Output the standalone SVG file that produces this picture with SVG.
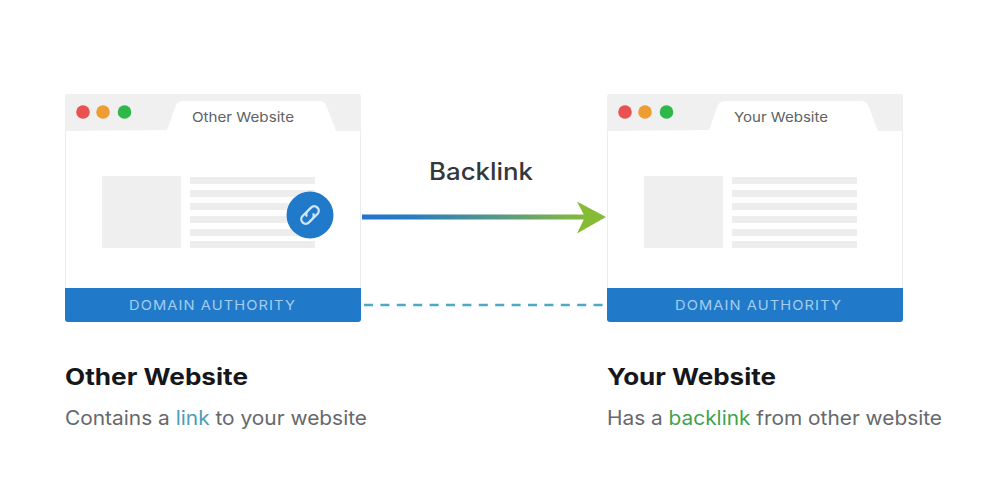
<svg xmlns="http://www.w3.org/2000/svg" width="1000" height="499" viewBox="0 0 1000 499">
  <style>
    text { font-family: "Inter", "Open Sans", "Liberation Sans", sans-serif; }
    .frame { fill: #fff; stroke: #ececee; stroke-width: 1; }
    .chrome { fill: #f0f0f1; }
    .block { fill: #efefef; }
    .row { fill: #ededed; }
    .bar { fill: #2079c9; }
    .tabtext { font-size: 13.5px; fill: #606264; }
    .bartext { font-size: 13.5px; fill: #a5cdee; letter-spacing: 1px; }
    .head { font-size: 23px; font-weight: 700; fill: #16171a; }
    .sub { font-size: 19.500px; fill: #66686b; }
    .label { font-size: 24px; font-weight: 500; fill: #35383b; }
  </style>
  <defs>
    <linearGradient id="linkFlow" gradientUnits="userSpaceOnUse" x1="362" y1="0" x2="607" y2="0">
      <stop offset="0" stop-color="#1f74cf"/>
      <stop offset="0.2" stop-color="#2a7bc0"/>
      <stop offset="0.55" stop-color="#55988a"/>
      <stop offset="0.85" stop-color="#80b545"/>
      <stop offset="1" stop-color="#86bb36"/>
    </linearGradient>
  </defs>

  <g id="other-site">
    <rect class="frame" x="65.500" y="94.500" width="295" height="227" rx="3"/>
    <path class="chrome" d="M65 97a3 3 0 0 1 3-3H358a3 3 0 0 1 3 3V131H336L326 105Q324 101 319 101H184Q178 101 176 105L167 130L65 131Z"/>
    <circle cx="83" cy="112" r="6.800" fill="#ea5252"/>
    <circle cx="103" cy="112" r="6.800" fill="#ee9d33"/>
    <circle cx="124.500" cy="112" r="6.800" fill="#2fb84a"/>
    <text class="tabtext" x="192" y="122" textLength="102" lengthAdjust="spacingAndGlyphs">Other Website</text>
    <rect class="block" x="102" y="176" width="79" height="72"/>
    <rect class="row" x="190" y="177" width="125" height="7"/>
    <rect class="row" x="190" y="190" width="125" height="7"/>
    <rect class="row" x="190" y="203" width="125" height="7"/>
    <rect class="row" x="190" y="216" width="125" height="7"/>
    <rect class="row" x="190" y="229" width="125" height="7"/>
    <rect class="row" x="190" y="241" width="125" height="7"/>
    <path class="bar" d="M65 288H361V319a3 3 0 0 1-3 3H68a3 3 0 0 1-3-3Z"/>
    <text class="bartext" x="129" y="310" textLength="167" lengthAdjust="spacingAndGlyphs">DOMAIN AUTHORITY</text>
    <g id="link-badge">
      <circle cx="310" cy="215" r="23.500" fill="#2079c9"/>
      <!-- two chain links, drawn level and turned onto the diagonal -->
      <g transform="rotate(-45 310 215)" fill="none" stroke="#d3e6f6" stroke-width="2.300" stroke-linecap="round">
        <path d="M309 210.500H304a4.500 4.500 0 0 0 0 9H309a4.500 4.500 0 0 0 4-2.500"/>
        <path d="M311 219.500H316a4.500 4.500 0 0 0 0-9H311a4.500 4.500 0 0 0-4 2.500"/>
      </g>
    </g>
  </g>

  <g id="your-site">
    <rect class="frame" x="607.500" y="94.500" width="295" height="227" rx="3"/>
    <path class="chrome" d="M607 97a3 3 0 0 1 3-3H900a3 3 0 0 1 3 3V131H878L868 105Q866 101 861 101H726Q720 101 718 105L709 130L607 131Z"/>
    <circle cx="625" cy="112" r="6.800" fill="#ea5252"/>
    <circle cx="645" cy="112" r="6.800" fill="#ee9d33"/>
    <circle cx="666.500" cy="112" r="6.800" fill="#2fb84a"/>
    <text class="tabtext" x="734" y="122" textLength="94" lengthAdjust="spacingAndGlyphs">Your Website</text>
    <rect class="block" x="644" y="176" width="79" height="72"/>
    <rect class="row" x="732" y="177" width="125" height="7"/>
    <rect class="row" x="732" y="190" width="125" height="7"/>
    <rect class="row" x="732" y="203" width="125" height="7"/>
    <rect class="row" x="732" y="216" width="125" height="7"/>
    <rect class="row" x="732" y="229" width="125" height="7"/>
    <rect class="row" x="732" y="241" width="125" height="7"/>
    <path class="bar" d="M607 288H903V319a3 3 0 0 1-3 3H610a3 3 0 0 1-3-3Z"/>
    <text class="bartext" x="675" y="310" textLength="167" lengthAdjust="spacingAndGlyphs">DOMAIN AUTHORITY</text>
  </g>

  <g id="connectors">
    <rect x="362" y="214.500" width="225" height="5" fill="url(#linkFlow)"/>
    <path d="M577 201.500L606 217L577 233.500L585 217Z" fill="#86bb36"/>
    <line x1="364" y1="305" x2="606" y2="305" stroke="#4fa9c2" stroke-width="2.500" stroke-dasharray="9 7.400"/>
  </g>

  <g id="backlink-label">
    <text class="label" x="429" y="180" textLength="104" lengthAdjust="spacingAndGlyphs">Backlink</text>
  </g>

  <g id="other-caption">
    <text class="head" x="65" y="385" textLength="183" lengthAdjust="spacingAndGlyphs">Other Website</text>
    <text class="sub" x="65" y="425" textLength="302" lengthAdjust="spacingAndGlyphs">Contains a <tspan fill="#4c9db5">link</tspan> to your website</text>
  </g>

  <g id="your-caption">
    <text class="head" x="607" y="385" textLength="169" lengthAdjust="spacingAndGlyphs">Your Website</text>
    <text class="sub" x="607" y="425" textLength="335" lengthAdjust="spacingAndGlyphs">Has a <tspan fill="#3fa34d">backlink</tspan> from other website</text>
  </g>
</svg>
